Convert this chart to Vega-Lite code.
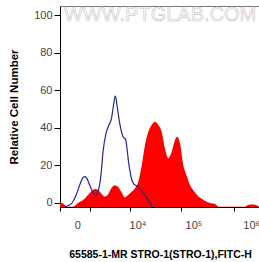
{
  "$schema": "https://vega.github.io/schema/vega-lite/v6.json",
  "width": 200,
  "height": 201,
  "autosize": "none",
  "padding": {"left": 60, "top": 6, "right": 0, "bottom": 55},
  "background": "white",
  "config": {"view": {"stroke": "#777", "strokeWidth": 1}, "font": "Liberation Sans"},
  "datasets": {
    "red": [
      {"fl": -1019, "count": -0.5}, {"fl": -865, "count": 0}, {"fl": -675, "count": -1}, {"fl": -470, "count": -2},
      {"fl": -205, "count": -2}, {"fl": 12, "count": 0}, {"fl": 234, "count": 1.6}, {"fl": 505, "count": 4.3},
      {"fl": 764, "count": 6.5}, {"fl": 987, "count": 7.5}, {"fl": 1239, "count": 7}, {"fl": 1552, "count": 5},
      {"fl": 1921, "count": 3.4}, {"fl": 2330, "count": 4.5}, {"fl": 2796, "count": 7.8}, {"fl": 3344, "count": 9.5},
      {"fl": 3952, "count": 8.7}, {"fl": 4645, "count": 6}, {"fl": 5462, "count": 3}, {"fl": 6365, "count": 4.3},
      {"fl": 7531, "count": 6}, {"fl": 8726, "count": 7.8}, {"fl": 10086, "count": 11.3}, {"fl": 11689, "count": 20},
      {"fl": 13465, "count": 30.9}, {"fl": 15489, "count": 37.9}, {"fl": 17872, "count": 41.5}, {"fl": 20514, "count": 43.2},
      {"fl": 23525, "count": 41.5}, {"fl": 27068, "count": 37.9}, {"fl": 30999, "count": 29}, {"fl": 35480, "count": 23.8},
      {"fl": 40745, "count": 27.3}, {"fl": 46590, "count": 33.5}, {"fl": 51140, "count": 35.3}, {"fl": 57040, "count": 31.8},
      {"fl": 65170, "count": 20.2}, {"fl": 74730, "count": 14.5}, {"fl": 85330, "count": 9.6}, {"fl": 100180, "count": 6.4},
      {"fl": 117590, "count": 3.7}, {"fl": 139000, "count": 2.1}, {"fl": 161930, "count": 0.8}, {"fl": 189960, "count": 0},
      {"fl": 231900, "count": -0.5}, {"fl": 271960, "count": -2}, {"fl": 765200, "count": -2}, {"fl": 862200, "count": -1},
      {"fl": 1010700, "count": -0.8}, {"fl": 1184800, "count": -1}, {"fl": 1334700, "count": -2}
    ],
    "blue": [
      {"fl": -865, "count": -2.5}, {"fl": -470, "count": -1.5}, {"fl": -254, "count": 0}, {"fl": -70, "count": 4},
      {"fl": 96, "count": 10}, {"fl": 234, "count": 13.5}, {"fl": 336, "count": 14}, {"fl": 447, "count": 13},
      {"fl": 630, "count": 9}, {"fl": 836, "count": 5.5}, {"fl": 1027, "count": 4}, {"fl": 1239, "count": 6},
      {"fl": 1522, "count": 15}, {"fl": 1730, "count": 27}, {"fl": 2076, "count": 37}, {"fl": 2465, "count": 41.5},
      {"fl": 2826, "count": 45}, {"fl": 3142, "count": 52}, {"fl": 3449, "count": 57}, {"fl": 3760, "count": 52},
      {"fl": 4257, "count": 43}, {"fl": 4691, "count": 38}, {"fl": 5112, "count": 35}, {"fl": 5670, "count": 34},
      {"fl": 6079, "count": 29}, {"fl": 6514, "count": 22}, {"fl": 6975, "count": 17}, {"fl": 7531, "count": 12.5},
      {"fl": 8347, "count": 10}, {"fl": 9530, "count": 9}, {"fl": 10860, "count": 7.5}, {"fl": 13465, "count": 4.3},
      {"fl": 16640, "count": 0}, {"fl": 18870, "count": -2.5}
    ],
    "xlabels": [
      {"fl": 0, "label": "0"},
      {"fl": 10000, "label": "10⁴"},
      {"fl": 100000, "label": "10⁵"},
      {"fl": 1000000, "label": "10⁶"}
    ]
  },
  "layer": [
    {
      "data": {"name": "red"},
      "mark": {"type": "area", "color": "#ff0000", "clip": true, "interpolate": "monotone"},
      "encoding": {
        "x": {
          "field": "fl", "type": "quantitative",
          "scale": {"type": "symlog", "constant": 1000, "domain": [-1019, 1390000], "nice": false, "zero": false},
          "axis": {
            "values": [-1000, -800, -600, -400, -200, 0, 200, 400, 600, 800, 1000, 2000, 3000, 4000, 5000, 6000, 7000, 8000, 9000, 10000, 20000, 30000, 40000, 50000, 60000, 70000, 80000, 90000, 100000, 200000, 300000, 400000, 500000, 600000, 700000, 800000, 900000, 1000000],
            "labels": false,
            "tickSize": 4,
            "domainColor": "#000",
            "tickColor": "#000",
            "grid": false,
            "title": "65585-1-MR STRO-1(STRO-1),FITC-H",
            "titleFontSize": 10.5,
            "titleFontWeight": "bold",
            "titleColor": "#000",
            "titleBaseline": "middle",
            "titleY": 47
          }
        },
        "y": {
          "field": "count", "type": "quantitative",
          "scale": {"domain": [-2.13, 104.8], "nice": false, "zero": false},
          "axis": {
            "values": [0, 5, 10, 15, 20, 25, 30, 35, 40, 45, 50, 55, 60, 65, 70, 75, 80, 85, 90, 95, 100],
            "labelExpr": "datum.value % 20 == 0 ? datum.label : ''",
            "tickSize": {"condition": {"test": "datum.value % 20 == 0", "value": 6}, "value": 3},
            "labelFontSize": 11,
            "labelColor": "#444",
            "labelPadding": 2,
            "domainColor": "#000",
            "tickColor": "#000",
            "grid": false,
            "title": "Relative Cell Number",
            "titleFontSize": 11.5,
            "titleFontWeight": "bold",
            "titleColor": "#000",
            "titlePadding": 14
          }
        },
        "y2": {"datum": -2.13}
      }
    },
    {
      "data": {"name": "blue"},
      "mark": {"type": "line", "color": "#262692", "strokeWidth": 1.2, "clip": true, "interpolate": "monotone"},
      "encoding": {
        "x": {"field": "fl", "type": "quantitative"},
        "y": {"field": "count", "type": "quantitative"}
      }
    },
    {
      "data": {"name": "xlabels"},
      "mark": {"type": "text", "align": "center", "baseline": "top", "dy": 13, "fontSize": 11, "font": "Liberation Sans", "color": "#444"},
      "encoding": {
        "x": {"field": "fl", "type": "quantitative"},
        "y": {"datum": -2.13, "type": "quantitative"},
        "text": {"field": "label"}
      }
    },
    {
      "data": {"values": [{"text": "WWW.PTGLAB.COM"}]},
      "mark": {"type": "text", "align": "left", "baseline": "middle", "fontSize": 20, "font": "Liberation Sans", "fill": "#ffffff", "stroke": "#c4c4c4", "strokeWidth": 0.6},
      "encoding": {
        "x": {"datum": -723, "type": "quantitative"},
        "y": {"datum": 100, "type": "quantitative"},
        "text": {"field": "text"}
      }
    }
  ]
}
